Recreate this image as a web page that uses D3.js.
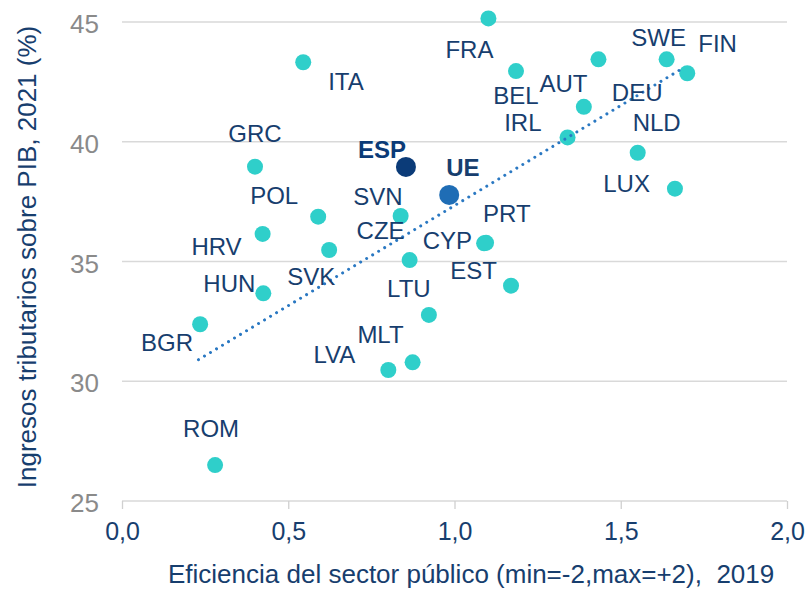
<!DOCTYPE html>
<html>
<head>
<meta charset="utf-8">
<script src="https://cdn.jsdelivr.net/npm/d3@7"></script>
<style>
  body { margin: 0; background: #fff; }
  svg { display: block; font-family: Arial, "Liberation Sans", sans-serif; }
</style>
</head>
<body>
<svg id="chart" width="807" height="589"></svg>
<script>
// country codes
var countries = ["ITA", "GRC", "POL", "HRV", "SVK", "HUN", "BGR", "ROM", "LVA", "MLT", "LTU", "CZE", "SVN",
  "CYP", "PRT", "EST", "FRA", "BEL", "AUT", "SWE", "FIN", "DEU", "IRL", "NLD", "LUX", "ESP", "UE"];
// public sector efficiency (x)
var efficiency = [0.545, 0.400, 0.590, 0.423, 0.623, 0.425, 0.235, 0.280, 0.801, 0.874, 0.923, 0.865, 0.838,
  1.089, 1.095, 1.170, 1.102, 1.185, 1.433, 1.638, 1.700, 1.389, 1.340, 1.551, 1.663, 0.854, 0.984];
// tax revenue, % of GDP (y)
var taxes = [43.32, 38.96, 36.87, 36.15, 35.48, 33.67, 32.38, 26.50, 30.47, 30.79, 32.77, 35.06, 36.90,
  35.76, 35.78, 33.99, 45.15, 42.95, 43.44, 43.44, 42.86, 41.46, 40.18, 39.54, 38.04, 38.95, 37.78];
// trend line ends
var trendX = [0.23, 1.69];
var trendY = [30.9, 43.1];
var xTicks = [0, 0.5, 1, 1.5, 2];
var yTicks = [25, 30, 35, 40, 45];

// label placement relative to dot: dx, dy (baseline), anchor
var labelPos = {
  ITA: [25, 28, "start"], GRC: [0, -25, "middle"], POL: [-20, -13, "end"], HRV: [-21, 21, "end"],
  SVK: [-18, 35, "middle"], HUN: [-8, -1, "end"], BGR: [-7, 27, "end"], ROM: [-4, -28, "middle"],
  LVA: [-33, -7, "end"], MLT: [-9, -19, "end"], LTU: [-20, -18, "middle"], CZE: [-5, -21, "end"],
  SVN: [2, -11, "end"], CYP: [-12, 6, "end"], PRT: [-3, -21, "start"], EST: [-14, -7, "end"],
  FRA: [-19, 40, "middle"], BEL: [0, 33, "middle"], AUT: [-11, 33, "end"], SWE: [-8, -13, "middle"],
  FIN: [11, -21, "start"], DEU: [28, -6, "start"], IRL: [-26, -6, "end"], NLD: [19, -22, "middle"],
  LUX: [-25, 3, "end"], ESP: [0, -9, "end"], UE: [-3, -19, "start"]
};

var cyan = "#2fcfca", navy = "#0b3b78", blue = "#1f6db5", textBlue = "#173e6e";

var svg = d3.select("#chart");
var x = d3.scaleLinear().domain([0, 2]).range([122, 787]);
var y = d3.scaleLinear().domain([25, 45]).range([501, 22]);

var points = countries.map(function(c, i) {
  return { name: c, x: efficiency[i], y: taxes[i] };
});

// horizontal grid
svg.append("g")
  .selectAll("line")
  .data(yTicks)
  .enter()
  .append("line")
  .attr("x1", x(0))
  .attr("x2", x(2))
  .attr("y1", function(d) { return y(d); })
  .attr("y2", function(d) { return y(d); })
  .attr("stroke", "#d9d9d9")
  .attr("stroke-width", 1.3);

// x axis
var xAxis = svg.append("g")
  .attr("transform", "translate(0," + y(25) + ")")
  .call(d3.axisBottom(x).tickValues(xTicks).tickSize(8).tickFormat(function(d) { return d3.format(".1f")(d).replace(".", ","); }));
xAxis.select(".domain").remove();
xAxis.selectAll("line").attr("stroke", "#d0d0d0").attr("stroke-width", 1.3);
xAxis.selectAll("text")
  .attr("y", 39)
  .attr("dy", 0)
  .attr("fill", textBlue)
  .style("font-size", "25px")
  .style("font-family", "Arial, 'Liberation Sans', sans-serif");

// y axis labels
var yAxis = svg.append("g")
  .attr("transform", "translate(122,0)")
  .call(d3.axisLeft(y).tickValues(yTicks).tickSize(0).tickPadding(23));
yAxis.select(".domain").remove();
yAxis.selectAll("text")
  .attr("dy", "0.37em")
  .attr("y", 1)
  .attr("fill", "#8a8a8a")
  .style("font-size", "26px")
  .style("font-family", "Arial, 'Liberation Sans', sans-serif");

// dots
svg.append("g")
  .selectAll("circle")
  .data(points)
  .enter()
  .append("circle")
  .attr("cx", function(d) { return x(d.x); })
  .attr("cy", function(d) { return y(d.y); })
  .attr("r", function(d) { return d.name === "ESP" || d.name === "UE" ? 10 : 8; })
  .attr("fill", function(d) {
    if (d.name === "ESP") return navy;
    if (d.name === "UE") return blue;
    return cyan;
  });

// trend
svg.append("path")
  .datum(trendX.map(function(d, i) { return [d, trendY[i]]; }))
  .attr("d", d3.line().x(function(d) { return x(d[0]); }).y(function(d) { return y(d[1]); }))
  .attr("fill", "none")
  .attr("stroke", "#2a78c2")
  .attr("stroke-width", 3)
  .attr("stroke-linecap", "round")
  .attr("stroke-dasharray", "0.01 7");

// labels
svg.append("g")
  .selectAll("text")
  .data(points)
  .enter()
  .append("text")
  .attr("x", function(d) { return x(d.x) + labelPos[d.name][0]; })
  .attr("y", function(d) { return y(d.y) + labelPos[d.name][1]; })
  .attr("text-anchor", function(d) { return labelPos[d.name][2]; })
  .attr("fill", function(d) { return d.name === "ESP" ? navy : textBlue; })
  .attr("font-weight", function(d) { return d.name === "ESP" || d.name === "UE" ? "bold" : "normal"; })
  .style("font-size", "24px")
  .text(function(d) { return d.name; });

// axis titles
svg.append("text")
  .attr("x", 168)
  .attr("y", 583)
  .attr("fill", textBlue)
  .style("font-size", "26px")
  .style("white-space", "pre")
  .text("Eficiencia del sector público (min=-2,max=+2),  2019");

svg.append("text")
  .attr("transform", "translate(36,257) rotate(-90)")
  .attr("text-anchor", "middle")
  .attr("fill", textBlue)
  .style("font-size", "26px")
  .text("Ingresos tributarios sobre PIB, 2021 (%)");
</script>
</body>
</html>
